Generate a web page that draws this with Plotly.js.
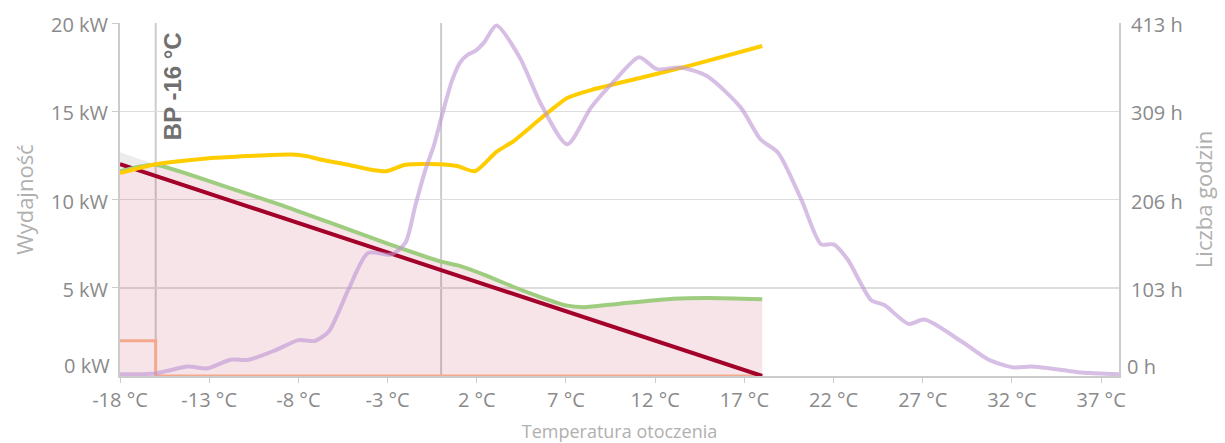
<!DOCTYPE html>
<html>
<head>
<meta charset="utf-8">
<script src="https://cdn.plot.ly/plotly-3.0.1.min.js"></script>
<style>html,body{margin:0;padding:0;background:#fff;}#chart{width:1225px;height:443px;}</style>
</head>
<body>
<div id="chart"></div>
<script>
// Temperature ticks (°C)
const xTickVals = [-18, -13, -8, -3, 2, 7, 12, 17, 22, 27, 32, 37];
const kwTickVals = [5, 10, 15, 20];
const hTickVals = [103.25, 206.5, 309.75, 413];
const hTickText = ['103 h', '206 h', '309 h', '413 h'];

// Heat demand of building (kW)
const demandT = [-18, 18];
const demandKW = [12.0, 0.0];

// Heat pump output (green, kW)
const pumpT = [-18, -17, -16, -12, -9, -6, -3, 0, 1, 2.5, 4, 5.5, 7, 8, 10, 13, 15, 18];
const pumpKW = [11.6, 11.85, 11.97, 10.7, 9.7, 8.6, 7.5, 6.48, 6.25, 5.7, 5.07, 4.5, 4.0, 3.9, 4.1, 4.38, 4.42, 4.35];

// Upper grey wedge (kW)
const greyT = [-18, -16, -18];
const greyKW = [12.67, 11.97, 11.6];

// Max heat pump capacity (yellow, kW)
const capT = [-18, -16, -12.7, -8.4, -7.5, -6.7, -5.2, -4.1, -3.1, -2, 0, 0.9, 1.9, 3.1, 4.05, 5.6, 7.07, 8.4, 11.2, 14, 18];
const capKW = [11.5, 12.0, 12.36, 12.55, 12.45, 12.25, 11.97, 11.72, 11.6, 11.97, 12.0, 11.9, 11.6, 12.7, 13.3, 14.6, 15.75, 16.2, 16.9, 17.6, 18.7];

// Backup heater (salmon, kW)
const heaterT = [-18, -16, -16, 18];
const heaterKW = [2, 2, 0, 0];

// Hours per temperature (purple, h)
const hoursT = [-18, -16, -14.2, -13.1, -11.8, -10.8, -9.3, -8, -7.1, -6.3, -5.2, -4.1, -2.8, -2, -1.45, -0.9, -0.4, 0.05, 0.6, 1.07, 1.5, 1.9, 2.4, 3.1, 4.4, 5.6, 7.07, 8.4, 9.7, 11.1, 12.1, 13.4, 14.9, 16.8, 17.9, 18.9, 20.2, 21.3, 22, 22.8, 24.1, 24.85, 26.2, 27.1, 29.2, 30.7, 32.1, 33.1, 34.8, 35.9, 38];
const hoursH = [2, 3, 11, 9, 19, 19, 30, 42, 41, 52, 101, 144, 142, 156, 199, 240, 270, 305, 345, 367, 376, 380, 390, 410, 373, 318, 271, 314, 345, 373, 359, 361, 351, 314, 277, 261, 206, 154, 154, 136, 89, 83, 61, 66, 40, 19, 10, 11, 7, 4, 2];

const FONT = '"Open Sans", "Noto Sans", sans-serif';
const TICKC = '#8a8a8a';
const TITLEC = '#b0b0b0';

const traces = [
  {x: pumpT, y: pumpKW, type: 'scatter', mode: 'lines', fill: 'tozeroy',
   fillcolor: 'rgba(180,30,70,0.12)', line: {width: 0, shape: 'spline', smoothing: 0.6}, hoverinfo: 'skip', showlegend: false},
  {x: greyT, y: greyKW, type: 'scatter', mode: 'lines', fill: 'toself',
   fillcolor: 'rgba(200,200,200,0.35)', line: {width: 0}, hoverinfo: 'skip', showlegend: false},
  {x: heaterT, y: heaterKW, type: 'scatter', mode: 'lines', line: {color: '#f4a98c', width: 3}, showlegend: false},
  {x: hoursT, y: hoursH, yaxis: 'y2', type: 'scatter', mode: 'lines',
   line: {color: 'rgba(190,150,212,0.62)', width: 4, shape: 'spline', smoothing: 0.7}, showlegend: false},
  {x: demandT, y: demandKW, type: 'scatter', mode: 'lines', line: {color: '#a3002a', width: 4}, showlegend: false},
  {x: pumpT, y: pumpKW, type: 'scatter', mode: 'lines', line: {color: '#9fcd80', width: 4, shape: 'spline', smoothing: 0.6}, showlegend: false},
  {x: capT, y: capKW, type: 'scatter', mode: 'lines', line: {color: '#ffcc00', width: 4, shape: 'spline', smoothing: 0.6}, showlegend: false}
];

const layout = {
  width: 1225, height: 443,
  margin: {l: 120, r: 106, t: 23, b: 67},
  paper_bgcolor: '#fff', plot_bgcolor: '#fff',
  showlegend: false,
  font: {family: FONT, size: 20, color: TICKC},
  xaxis: {
    range: [-18, 38], tickmode: 'array', tickvals: xTickVals,
    ticktext: xTickVals.map(v => v + ' °C'),
    showgrid: false, zeroline: false, showline: true, linecolor: '#cccccc', linewidth: 2,
    ticks: 'outside', ticklen: 5, tickcolor: '#cccccc', tickwidth: 1,
    tickfont: {family: FONT, size: 20, color: TICKC},
    title: {text: 'Temperatura otoczenia', standoff: 13, font: {family: FONT, size: 18, color: TITLEC}}
  },
  yaxis: {
    range: [0, 20], tickmode: 'array', tickvals: kwTickVals,
    ticktext: kwTickVals.map(v => v + ' kW'),
    showgrid: true, gridcolor: '#dddddd', gridwidth: 1.5, zeroline: false,
    showline: true, linecolor: '#cccccc', linewidth: 2,
    ticks: 'outside', ticklen: 6, tickcolor: '#cccccc',
    tickfont: {family: FONT, size: 20, color: TICKC}, ticklabelshift: 2,
    title: {text: 'Wydajność', standoff: 11, font: {family: FONT, size: 22, color: TITLEC}}
  },
  yaxis2: {
    range: [0, 413], overlaying: 'y', side: 'right', tickmode: 'array',
    tickvals: hTickVals, ticktext: hTickText, showgrid: false, zeroline: false,
    showline: true, linecolor: '#cccccc', linewidth: 2, ticks: '', ticklabelstandoff: 6,
    tickfont: {family: FONT, size: 20, color: TICKC}, ticklabelshift: 2,
    title: {text: 'Liczba godzin', standoff: 15, font: {family: FONT, size: 22, color: TITLEC}}
  },
  shapes: [
    {type: 'line', xref: 'x', yref: 'paper', x0: -16, x1: -16, y0: 0, y1: 1, layer: 'below', line: {color: '#cccccc', width: 2}},
    {type: 'line', xref: 'x', yref: 'paper', x0: 0, x1: 0, y0: 0, y1: 1, layer: 'below', line: {color: '#cccccc', width: 2}}
  ],
  annotations: [
    {text: '<b>BP -16 °C</b>', x: -16, y: 20, xref: 'x', yref: 'y', xanchor: 'left', yanchor: 'top',
     xshift: 1, yshift: -7, textangle: -90, showarrow: false,
     font: {family: '"Liberation Sans", Arial, sans-serif', size: 24, color: '#707070'}},
    {text: '0 kW', xref: 'paper', yref: 'y', x: 0, y: 0, xanchor: 'right', yanchor: 'middle',
     xshift: -8, yshift: 11, showarrow: false, font: {family: FONT, size: 20, color: TICKC}},
    {text: '0 h', xref: 'paper', yref: 'y', x: 1, y: 0, xanchor: 'left', yanchor: 'middle',
     xshift: 6, yshift: 10, showarrow: false, font: {family: FONT, size: 20, color: TICKC}}
  ]
};

Plotly.newPlot('chart', traces, layout, {displayModeBar: false, staticPlot: true});
</script>
</body>
</html>
